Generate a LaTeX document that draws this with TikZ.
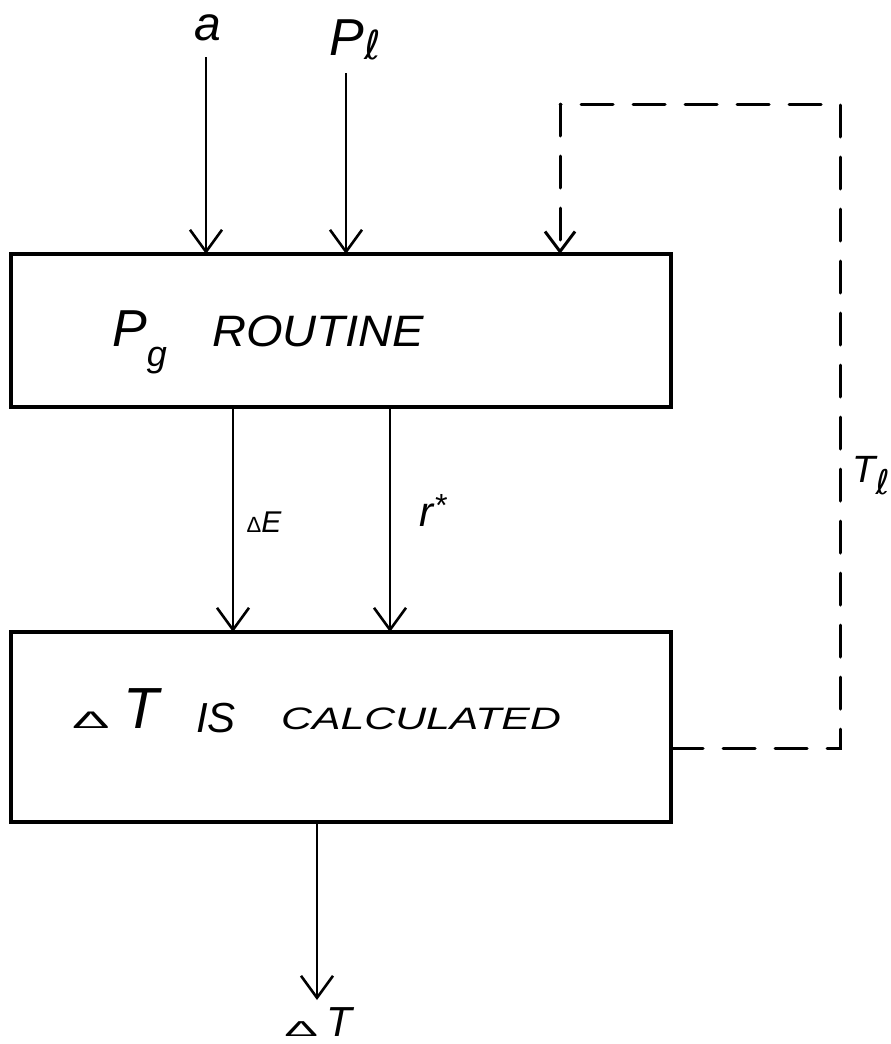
\documentclass[tikz,border=0pt]{standalone}
\usepackage{fontspec}
\setmainfont{Liberation Sans}
\newfontfamily\dvfont{DejaVu Sans}
\usetikzlibrary{arrows.meta}
\newcommand{\fs}[1]{\fontsize{#1}{#1}\selectfont}
\tikzset{
  boxstyle/.style={draw, line width=3.4pt, minimum width=660pt, inner sep=0pt, outer sep=0pt},
  arr/.style={line width=2.6pt, -{Straight Barb[length=22pt,width=32pt,line width=2.6pt]}},
  fb/.style={line width=3pt, dash pattern=on 32pt off 20pt, line cap=round},
  fbarr/.style={fb, -{Straight Barb[length=20pt,width=30pt,line width=3pt]}},
  lbl/.style={inner sep=0pt, font=\itshape},
}
\begin{document}
\begin{tikzpicture}[x=1pt,y=-1pt]
\useasboundingbox (0,0) rectangle (891,1044);
% boxes
\node[boxstyle, minimum height=153pt] (b1) at (341,330.5) {};
\node[boxstyle, minimum height=190pt] (b2) at (341,727) {};
% box texts
\node[lbl, anchor=base west] (t1) at (112,346) {\fs{52}P\raisebox{-20pt}{\fs{36}g}};
\node[lbl, anchor=base west] (t1b) at (212,346) {\scalebox{1.07}[1]{\fs{44}ROUTINE}};
\node[lbl, anchor=base west] (t2) at (72,728) {\scalebox{1.4}[0.6]{\upshape\fs{40}Δ}\hspace{14pt}\fs{58}T};
\node[lbl, anchor=base west] (t2b) at (196,732) {\fs{42}IS};
\node[lbl, anchor=base west] (t2c) at (281,729) {\scalebox{1.38}[1]{\fs{31}CALCULATED}};
% inputs
\coordinate (aTop) at (206,57);
\coordinate (pTop) at (346,73);
\node[lbl] (la) at (208,28) {\fs{48}a};
\node[lbl] (lp) at (355,40) {\fs{52}P\raisebox{-4pt}{\dvfont\itshape\fs{40}ℓ}};
\draw[arr] (aTop) -- (aTop |- b1.north);
\draw[arr] (pTop) -- (pTop |- b1.north);
% between boxes
\coordinate (eTop) at (233,407);
\coordinate (rTop) at (390,407);
\draw[arr] (eTop) -- (eTop |- b2.north);
\draw[arr] (rTop) -- (rTop |- b2.north);
\node[lbl] (le) at (264,522) {{\upshape\fs{22}Δ}\fs{30}E};
\node[lbl] (lr) at (433,510) {\fs{42}r\raisebox{10pt}{\fs{32}*}};
% feedback
\coordinate (fs) at (671,748);
\coordinate (fc1) at (840,748);
\coordinate (fc2) at (840,104);
\coordinate (fc3) at (560,104);
\draw[fb] (fs) -- (fc1) -- (fc2) -- (fc3);
\draw[fbarr] (fc3) -- (fc3 |- b1.north);
\node[lbl] (lt) at (871,476) {\fs{38}T\raisebox{-12pt}{\dvfont\itshape\fs{34}ℓ}};
% output
\coordinate (oEnd) at (317,1000);
\draw[arr] (oEnd |- b2.south) -- (oEnd);
\node[lbl, anchor=base] (lo) at (318,1036) {\scalebox{1.4}[0.6]{\upshape\fs{36}Δ}\hspace{8pt}\fs{42}T};
\end{tikzpicture}
\end{document}
